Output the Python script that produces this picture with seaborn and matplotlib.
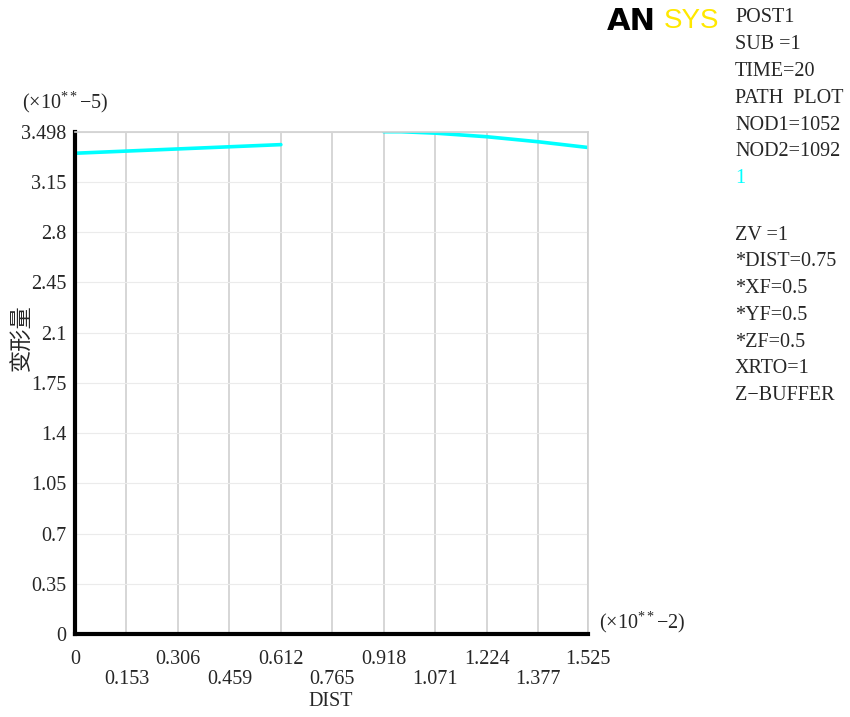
import matplotlib
matplotlib.use("Agg")
import matplotlib.pyplot as plt
import matplotlib.transforms as mtransforms
import seaborn as sns
import pandas as pd

# ---- data ----
dist_seg1 = [0.0, 0.153, 0.306, 0.459, 0.612]
defo_seg1 = [3.35, 3.365, 3.38, 3.395, 3.41]
dist_seg2 = [0.918, 0.97, 1.071, 1.224, 1.377, 1.525]
defo_seg2 = [3.50, 3.50, 3.49, 3.465, 3.43, 3.39]
x_ticks = [0, 0.153, 0.306, 0.459, 0.612, 0.765, 0.918, 1.071, 1.224, 1.377, 1.525]
y_ticks = [0, 0.35, 0.7, 1.05, 1.4, 1.75, 2.1, 2.45, 2.8, 3.15, 3.498]
y_ticklabels = ["0", "0.35", "0.7", "1.05", "1.4", "1.75", "2.1", "2.45", "2.8", "3.15", "3.498"]
x_ticklabels = ["0", "0.153", "0.306", "0.459", "0.612", "0.765", "0.918", "1.071", "1.224", "1.377", "1.525"]
info_lines_top = ["POST1", "SUB =1", "TIME=20", "PATH  PLOT", "NOD1=1052", "NOD2=1092"]
info_lines_bottom = ["ZV =1", "*DIST=0.75", "*XF=0.5", "*YF=0.5", "*ZF=0.5", "XRTO=1", "Z\u2212BUFFER"]

sns.set_style("white")
plt.rcParams['font.family'] = ['Liberation Serif', 'Noto Sans CJK SC', 'DejaVu Sans']
plt.rcParams['mathtext.fontset'] = 'custom'
plt.rcParams['mathtext.rm'] = 'Liberation Serif'
plt.rcParams['mathtext.it'] = 'Liberation Serif'

FS = 14.5
fig = plt.figure(figsize=(8.5, 7.17), dpi=100)
W, H = 850, 717
ax = fig.add_axes([75 / W, 1 - 634 / H, (588 - 75) / W, (634 - 132) / H])

cyan = "#00FFFF"
grid_c = "#d0d0d0"
df1 = pd.DataFrame({"DIST": dist_seg1, "val": defo_seg1})
df2 = pd.DataFrame({"DIST": dist_seg2, "val": defo_seg2})

ax.set_xlim(0, 1.525)
ax.set_ylim(0, 3.498)
ax.set_xticks(x_ticks)
ax.set_xticklabels([])
ax.set_yticks(y_ticks)
ax.grid(axis='x', color=grid_c, linewidth=1.2)
ax.grid(axis='y', color="#ebebeb", linewidth=0.8)
ax.set_axisbelow(True)

sns.lineplot(data=df1, x="DIST", y="val", ax=ax, color=cyan, linewidth=2.6)
sns.lineplot(data=df2, x="DIST", y="val", ax=ax, color=cyan, linewidth=2.6)
ax.set_xlim(0, 1.525)
ax.set_ylim(0, 3.498)

ax.set_yticklabels(y_ticklabels, fontsize=FS)
ax.tick_params(axis='y', length=5, width=1, color=grid_c, pad=1)
ax.tick_params(axis='x', length=15, width=1.2, color=grid_c, direction='out')
for s in ["top", "right"]:
    ax.spines[s].set_color(grid_c)
    ax.spines[s].set_linewidth(1.2)
for s in ["left", "bottom"]:
    ax.spines[s].set_color("black")
    ax.spines[s].set_linewidth(3)
ax.set_xlabel("")
ax.set_ylabel("")

# two-row x tick labels
blend = mtransforms.blended_transform_factory(ax.transData, fig.transFigure)
for i, (xv, lab) in enumerate(zip(x_ticks, x_ticklabels)):
    ypix = 660 if i % 2 == 0 else 679
    ax.text(xv, 1 - ypix / H, lab, transform=blend, ha='center', va='center', fontsize=FS)

fig.text(331 / W, 1 - 702 / H, "DIST", ha='center', va='center', fontsize=FS)
fig.text(22 / W, 1 - 338 / H, "变形量", rotation=90, ha='center', va='center',
         fontsize=16, family=['Noto Sans CJK SC', 'DejaVu Sans'])
fig.text(22 / W, 1 - 102 / H, "(×10$^{**}$−5)", ha='left', va='center', fontsize=FS)
fig.text(599 / W, 1 - 622 / H, "(×10$^{**}$−2)", ha='left', va='center', fontsize=FS)

# ANSYS logo
fig.text(607 / W, 1 - 21 / H, "AN", ha='left', va='center', fontsize=22,
         fontweight='black', family=['DejaVu Sans'], color='black')
fig.text(664 / W, 1 - 21 / H, "SYS", ha='left', va='center', fontsize=20,
         family=['Liberation Sans Narrow', 'Liberation Sans'], color='#FFE800')

# info texts
x0 = 735 / W
step = 26.8
for i, t in enumerate(info_lines_top):
    fig.text(x0, 1 - (18 + i * step) / H, t, ha='left', va='center', fontsize=FS)
fig.text(x0, 1 - (18 + 6 * step) / H, "1", ha='left', va='center', fontsize=FS, color=cyan)
for i, t in enumerate(info_lines_bottom):
    fig.text(x0, 1 - (235 + i * step) / H, t, ha='left', va='center', fontsize=FS)

fig.savefig("out.png", dpi=100)
